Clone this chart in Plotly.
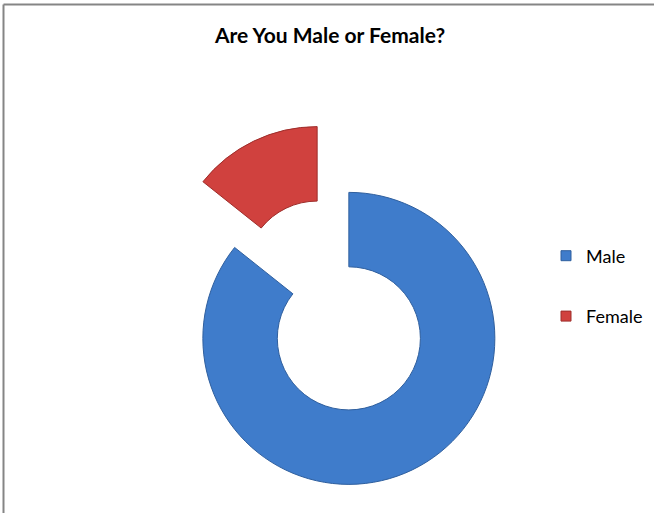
import plotly.graph_objects as go

# Data
categories = ["Male", "Female"]
values = [85.7, 14.3]
colors = ["#3F7CCB", "#D0413E"]
edge_colors = ["#2F5F9E", "#9E2E2B"]
pulls = [0.25, 0.25]

W, H = 658, 513

fig = go.Figure()

# Donut
cx0, cy0 = 333, 305.5  # pixel center
half = 182.5
fig.add_trace(go.Pie(
    labels=categories,
    values=values,
    hole=0.49,
    sort=False,
    direction="clockwise",
    rotation=0,
    pull=pulls,
    marker=dict(colors=colors, line=dict(color=edge_colors, width=1)),
    textinfo="none",
    showlegend=False,
    domain=dict(x=[(cx0 - half) / W, (cx0 + half) / W],
                y=[1 - (cy0 + half) / H, 1 - (cy0 - half) / H]),
))

# Legend entries (one per category)
for i, (cat, col) in enumerate(zip(categories, colors)):
    fig.add_trace(go.Scatter(
        x=[None], y=[None], mode="markers", name=cat,
        legendgroup=cat,
        marker=dict(symbol="square", size=10, color=col,
                    line=dict(color=edge_colors[i], width=1)),
        showlegend=True,
    ))

fig.update_layout(
    width=W, height=H,
    margin=dict(l=0, r=0, t=0, b=0),
    paper_bgcolor="white",
    plot_bgcolor="white",
    xaxis=dict(visible=False),
    yaxis=dict(visible=False),
    title=dict(text="<b>Are You Male or Female?</b>",
               x=330 / W, xanchor="center",
               y=1 - 36 / H, yanchor="middle", yref="container",
               font=dict(family="Lato, Carlito, Calibri, sans-serif", size=21, color="#000000")),
    legend=dict(x=546 / W, xanchor="left", y=1 - 286 / H, yanchor="middle",
                font=dict(family="Lato, Carlito, Calibri, sans-serif", size=18, color="#000000"),
                tracegroupgap=34, itemwidth=30, bgcolor="rgba(0,0,0,0)"),
    shapes=[
        dict(type="line", xref="paper", yref="paper",
             x0=3.5 / W, x1=654 / W, y0=1 - 4.5 / H, y1=1 - 4.5 / H,
             line=dict(color="#858585", width=2)),
        dict(type="line", xref="paper", yref="paper",
             x0=3.5 / W, x1=3.5 / W, y0=0, y1=1 - 4.5 / H,
             line=dict(color="#858585", width=2)),
    ],
)

fig.write_html("out.html", config={"displayModeBar": False},
               post_script="document.body.style.margin='0px';")
